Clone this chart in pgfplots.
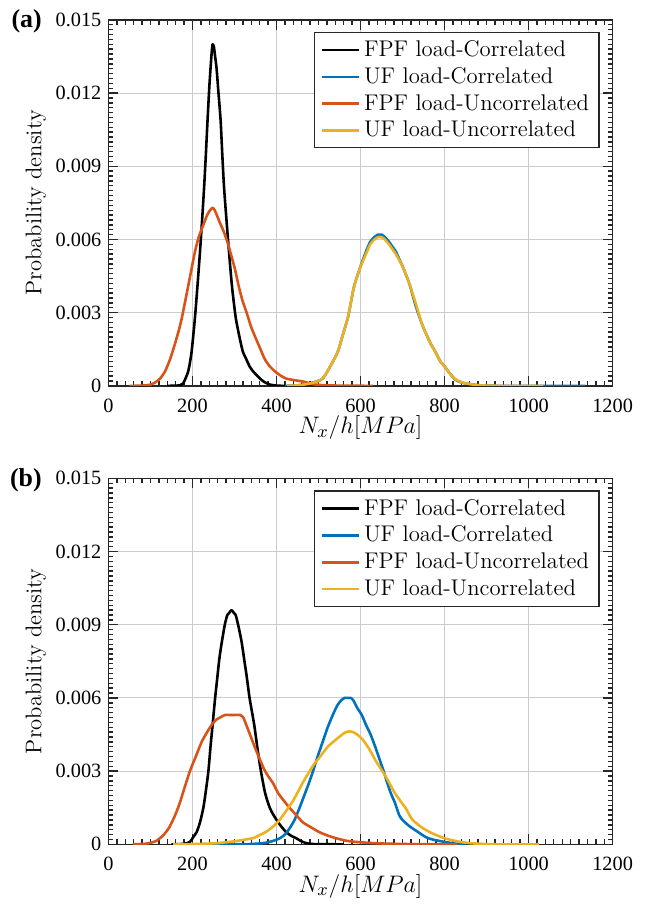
\documentclass[border=0pt]{standalone}
\usepackage{fontspec}
\usepackage{pgfplots}
\pgfplotsset{compat=1.18}
\newfontfamily\timesfont{Liberation Serif}
\definecolor{mblue}{rgb}{0,0.447,0.741}
\definecolor{morange}{rgb}{0.850,0.325,0.098}
\definecolor{myellow}{rgb}{0.929,0.694,0.125}
\definecolor{axgray}{rgb}{0.15,0.15,0.15}

\pgfplotsset{
  pdfstyle/.style={
    width=253.5pt, height=184pt, scale only axis,
    xmin=0, xmax=1200, ymin=0, ymax=0.015,
    xtick={0,200,400,600,800,1000,1200},
    ytick={0,0.003,0.006,0.009,0.012,0.015},
    yticklabels={0,0.003,0.006,0.009,0.012,0.015},
    scaled y ticks=false,
    /pgf/number format/set thousands separator={},
    minor x tick num=9, minor y tick num=14,
    major tick length=5pt, minor tick length=2.5pt,
    xtick style={axgray, line width=0.7pt},
    ytick style={axgray, line width=0.7pt},
    axis line style={axgray, line width=0.8pt},
    grid=major, major grid style={black!20, line width=0.5pt},
    tick label style={font=\timesfont\fontsize{10.2}{12}\selectfont},
    /pgf/number format/assume math mode=true,
    xticklabel style={yshift=-3pt},
    xlabel={$N_x/h[MPa]$},
    xlabel style={at={(axis description cs:0.5,0)}, anchor=center, yshift=-21pt,
      font=\fontsize{13}{15}\selectfont},
    ylabel={Probability density},
    ylabel style={at={(axis description cs:-0.144,0.5)}, anchor=center,
      font=\fontsize{11.4}{13}\selectfont},
    legend style={at={(0.974,0.967)}, anchor=north east, draw=axgray,
      line width=0.7pt, font=\fontsize{11.4}{13.7}\selectfont},
    legend cell align=left,
    legend image code/.code={\draw[#1, line width=1.3pt] (0pt,0pt) -- (18.5pt,0pt);},
    every axis plot/.append style={line width=1.3pt, line join=round, smooth, tension=0.4},
  }
}

\begin{document}
\begin{tikzpicture}

% (a)
\begin{axis}[pdfstyle, name=top, at={(0,230.5pt)}, anchor=south west]
\addplot[black] coordinates {(140,0) (170,0.00002) (178,0.0001) (190,0.0006) (198,0.0014) (206,0.0028) (212,0.0041) (218,0.0055) (223,0.0068) (228,0.0082) (232,0.0095) (236,0.0109) (240,0.0122) (243,0.0130) (246,0.0137) (248,0.0140) (251,0.0139) (254,0.0135) (257.5,0.0130) (262,0.0120) (267,0.0109) (271,0.0095) (275,0.0082) (281,0.0068) (287,0.0055) (294,0.0041) (303,0.0028) (312,0.0020) (320,0.0014) (328,0.0011) (336,0.0008) (344,0.0006) (355,0.0004) (364,0.00025) (372,0.00015) (385,0.00005) (400,0.00001) (420,0)};
\addlegendentry{FPF load-Correlated}
\addplot[mblue] coordinates {(420,0) (450,0.00002) (471,0.00008) (490,0.00015) (510,0.0003) (528,0.0008) (546,0.0014) (558,0.0021) (570,0.0028) (578,0.0035) (585,0.0041) (598,0.0048) (613,0.0055) (623,0.0059) (633,0.0061) (642,0.0062) (650,0.0062) (658,0.0061) (668,0.0059) (676,0.0057) (684,0.0055) (700,0.0049) (716,0.0042) (731,0.0033) (747,0.0025) (765,0.0018) (778,0.0014) (790,0.0010) (800,0.0008) (813,0.0005) (826,0.00025) (842,0.00013) (858,0.00008) (880,0.00003) (900,0.00001) (950,0) (1135,0)};
\addlegendentry{UF load-Correlated}
\addplot[morange] coordinates {(50,0) (80,0.00001) (100,0.00005) (112,0.00015) (123,0.0003) (135,0.0006) (147,0.0011) (158,0.0017) (168,0.0023) (175,0.0028) (182,0.0034) (190,0.0041) (198,0.0048) (206,0.0055) (215,0.0061) (226,0.0066) (235,0.0070) (242,0.0072) (248,0.0073) (253,0.0072) (258,0.0070) (265,0.0067) (275,0.0063) (285,0.0058) (293,0.0053) (301,0.0048) (310,0.0041) (319,0.0035) (329,0.0030) (340,0.0024) (352,0.0019) (362,0.0015) (372,0.0011) (384,0.0008) (396,0.0006) (410,0.00042) (423,0.0003) (440,0.00024) (463,0.00018) (480,0.0001) (494,0.00005) (520,0.00002) (560,0.00001) (630,0)};
\addlegendentry{FPF load-Uncorrelated}
\addplot[myellow] coordinates {(425,0) (450,0.00002) (471,0.00007) (490,0.00014) (510,0.0003) (528,0.0008) (546,0.0014) (558,0.0021) (570,0.0028) (578,0.0035) (585,0.0041) (598,0.0048) (613,0.0054) (623,0.0058) (633,0.0060) (642,0.0061) (650,0.0061) (658,0.0060) (668,0.0058) (676,0.0056) (684,0.0054) (700,0.0049) (716,0.0042) (731,0.0034) (747,0.0025) (765,0.0018) (778,0.0014) (790,0.0010) (800,0.0008) (813,0.0005) (826,0.00027) (842,0.00014) (858,0.00008) (880,0.00003) (900,0.00001) (950,0) (1035,0)};
\addlegendentry{UF load-Uncorrelated}
\end{axis}

% (b)
\begin{axis}[pdfstyle, name=bot, at={(0,0)}, anchor=south west]
\addplot[black] coordinates {(150,0) (180,0.00002) (194,0.0001) (202,0.0003) (210,0.0005) (218,0.0009) (226,0.0015) (232,0.0022) (238,0.0030) (243,0.0040) (248,0.0049) (254,0.0060) (259,0.0068) (264,0.0076) (270,0.0083) (277,0.0090) (283,0.0094) (288,0.0095) (293,0.0096) (298,0.0095) (303,0.0094) (310,0.0089) (317,0.0083) (323,0.0076) (329,0.0069) (336,0.0060) (347,0.0049) (355,0.0039) (363,0.0030) (373,0.0021) (384,0.0015) (393,0.0012) (404,0.0009) (413,0.0007) (423,0.0005) (435,0.00035) (447,0.00025) (460,0.00012) (471,0.00005) (490,0.00001) (560,0)};
\addlegendentry{FPF load-Correlated}
\addplot[mblue] coordinates {(200,0) (330,0.00001) (368,0.00005) (390,0.00013) (408,0.00025) (420,0.0004) (431,0.00065) (443,0.001) (455,0.0015) (466,0.0020) (477,0.0025) (487,0.0030) (498,0.0036) (510,0.0042) (522,0.0048) (534,0.0053) (545,0.0057) (554,0.0059) (562,0.0060) (570,0.0060) (577,0.0060) (583,0.0059) (592,0.0056) (603,0.0053) (613,0.0049) (624,0.0045) (635,0.0040) (645,0.0035) (655,0.0030) (664,0.0025) (672,0.0021) (682,0.0017) (692,0.0012) (700,0.0010) (716,0.00075) (739,0.00048) (755,0.0003) (771,0.0002) (800,0.0001) (826,0.00003) (850,0)};
\addlegendentry{UF load-Correlated}
\addplot[morange] coordinates {(58,0) (85,0.00002) (100,0.00006) (115,0.00015) (131,0.00038) (145,0.0007) (159,0.0012) (170,0.0017) (179,0.0022) (194,0.0030) (208,0.0036) (222,0.0042) (235,0.0046) (246,0.0049) (256,0.0051) (266,0.0052) (277,0.0053) (295,0.0053) (313,0.0053) (321,0.0052) (328,0.0049) (337,0.0045) (348,0.0040) (360,0.0035) (370,0.0031) (380,0.0028) (392,0.0025) (404,0.0021) (417,0.0018) (431,0.0015) (447,0.0012) (463,0.0009) (482,0.0007) (502,0.0005) (522,0.00036) (542,0.00025) (565,0.00015) (589,0.0001) (620,0.00006) (660,0.00003) (720,0.00001) (830,0)};
\addlegendentry{FPF load-Uncorrelated}
\addplot[myellow] coordinates {(154,0) (220,0.00002) (260,0.00005) (297,0.00012) (320,0.00018) (344,0.00025) (360,0.00038) (376,0.00052) (390,0.0007) (404,0.00093) (416,0.0012) (427,0.00147) (440,0.0018) (451,0.00215) (465,0.0026) (479,0.0030) (490,0.0033) (502,0.00355) (522,0.0040) (542,0.0043) (555,0.00448) (565,0.0046) (573,0.00463) (582,0.0046) (592,0.0045) (605,0.0043) (621,0.0039) (637,0.0034) (652,0.0030) (666,0.0026) (680,0.00215) (694,0.0018) (708,0.00147) (723,0.00102) (747,0.00068) (771,0.00045) (800,0.00025) (834,0.00011) (866,0.00004) (929,0) (1025,0)};
\addlegendentry{UF load-Uncorrelated}
\end{axis}

\node[font=\timesfont\bfseries\fontsize{13}{15}\selectfont, anchor=base east]
  at ([xshift=-30pt,yshift=-4pt]top.north west) {(a)};
\node[font=\timesfont\bfseries\fontsize{13}{15}\selectfont, anchor=base east]
  at ([xshift=-30pt,yshift=-4pt]bot.north west) {(b)};
\path (-54.5pt,-31pt) rectangle (270.3pt,424.5pt);
\end{tikzpicture}
\end{document}
